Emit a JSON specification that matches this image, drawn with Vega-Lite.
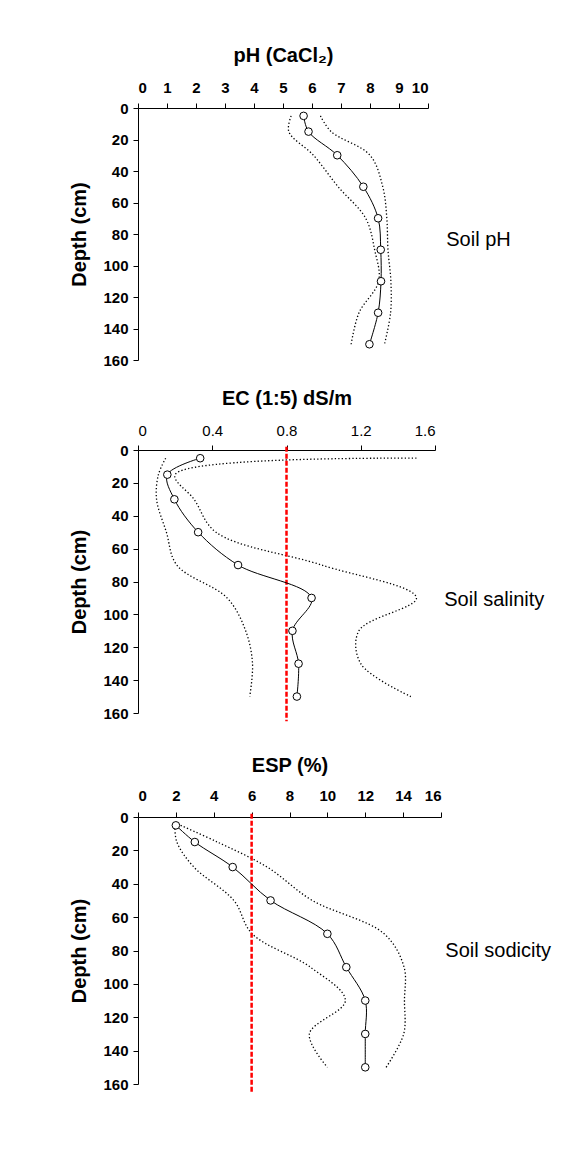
{
  "$schema": "https://vega.github.io/schema/vega-lite/v6.json",
  "background": "white",
  "padding": {"left": 69, "top": 45, "right": 5, "bottom": 5},
  "config": {
    "font": "Liberation Sans",
    "view": {"stroke": null},
    "axis": {
      "grid": false,
      "domainColor": "black",
      "tickColor": "black",
      "labelColor": "black",
      "titleColor": "black",
      "labelFont": "Liberation Sans",
      "titleFont": "Liberation Sans",
      "labelFontSize": 15,
      "labelFontWeight": "bold",
      "titleFontSize": 20,
      "titleFontWeight": "bold",
      "tickSize": 5,
      "domainWidth": 1,
      "tickWidth": 1,
      "labelOverlap": false
    },
    "axisY": {"labelPadding": 5, "titlePadding": 13}
  },
  "datasets": {
    "ph": [
      {"depth": 5, "series": "mean", "value": 5.71},
      {"depth": 15, "series": "mean", "value": 5.88},
      {"depth": 30, "series": "mean", "value": 6.87},
      {"depth": 50, "series": "mean", "value": 7.77},
      {"depth": 70, "series": "mean", "value": 8.28},
      {"depth": 90, "series": "mean", "value": 8.37},
      {"depth": 110, "series": "mean", "value": 8.38},
      {"depth": 130, "series": "mean", "value": 8.28},
      {"depth": 150, "series": "mean", "value": 7.98},
      {"depth": 5, "series": "lower", "value": 5.28},
      {"depth": 15, "series": "lower", "value": 5.2},
      {"depth": 30, "series": "lower", "value": 6.05},
      {"depth": 50, "series": "lower", "value": 6.9},
      {"depth": 70, "series": "lower", "value": 7.85},
      {"depth": 90, "series": "lower", "value": 8.16},
      {"depth": 110, "series": "lower", "value": 8.3},
      {"depth": 130, "series": "lower", "value": 7.62},
      {"depth": 150, "series": "lower", "value": 7.35},
      {"depth": 5, "series": "upper", "value": 6.29},
      {"depth": 15, "series": "upper", "value": 6.66},
      {"depth": 30, "series": "upper", "value": 8.0},
      {"depth": 50, "series": "upper", "value": 8.44},
      {"depth": 70, "series": "upper", "value": 8.58},
      {"depth": 90, "series": "upper", "value": 8.62},
      {"depth": 110, "series": "upper", "value": 8.72},
      {"depth": 130, "series": "upper", "value": 8.71},
      {"depth": 150, "series": "upper", "value": 8.5}
    ],
    "ec": [
      {"depth": 5, "series": "mean", "value": 0.335},
      {"depth": 15, "series": "mean", "value": 0.158},
      {"depth": 30, "series": "mean", "value": 0.196},
      {"depth": 50, "series": "mean", "value": 0.324},
      {"depth": 70, "series": "mean", "value": 0.539},
      {"depth": 90, "series": "mean", "value": 0.935},
      {"depth": 110, "series": "mean", "value": 0.832},
      {"depth": 130, "series": "mean", "value": 0.865},
      {"depth": 150, "series": "mean", "value": 0.856},
      {"depth": 5, "series": "lower", "value": 0.149},
      {"depth": 15, "series": "lower", "value": 0.11},
      {"depth": 30, "series": "lower", "value": 0.1},
      {"depth": 50, "series": "lower", "value": 0.153},
      {"depth": 70, "series": "lower", "value": 0.209},
      {"depth": 90, "series": "lower", "value": 0.48},
      {"depth": 110, "series": "lower", "value": 0.58},
      {"depth": 130, "series": "lower", "value": 0.617},
      {"depth": 150, "series": "lower", "value": 0.602},
      {"depth": 5, "series": "upper", "value": 1.5},
      {"depth": 15, "series": "upper", "value": 0.2},
      {"depth": 30, "series": "upper", "value": 0.302},
      {"depth": 50, "series": "upper", "value": 0.42},
      {"depth": 70, "series": "upper", "value": 0.99},
      {"depth": 90, "series": "upper", "value": 1.5},
      {"depth": 110, "series": "upper", "value": 1.19},
      {"depth": 130, "series": "upper", "value": 1.2},
      {"depth": 150, "series": "upper", "value": 1.47}
    ],
    "esp": [
      {"depth": 5, "series": "mean", "value": 2.0},
      {"depth": 15, "series": "mean", "value": 3.0},
      {"depth": 30, "series": "mean", "value": 5.0},
      {"depth": 50, "series": "mean", "value": 7.0},
      {"depth": 70, "series": "mean", "value": 10.0},
      {"depth": 90, "series": "mean", "value": 11.0},
      {"depth": 110, "series": "mean", "value": 12.0},
      {"depth": 130, "series": "mean", "value": 12.0},
      {"depth": 150, "series": "mean", "value": 12.0},
      {"depth": 5, "series": "lower", "value": 1.95},
      {"depth": 15, "series": "lower", "value": 2.05},
      {"depth": 30, "series": "lower", "value": 2.95},
      {"depth": 50, "series": "lower", "value": 5.06},
      {"depth": 70, "series": "lower", "value": 6.03},
      {"depth": 90, "series": "lower", "value": 9.1},
      {"depth": 110, "series": "lower", "value": 10.95},
      {"depth": 130, "series": "lower", "value": 9.05},
      {"depth": 150, "series": "lower", "value": 10.0},
      {"depth": 5, "series": "upper", "value": 2.25},
      {"depth": 15, "series": "upper", "value": 4.19},
      {"depth": 30, "series": "upper", "value": 6.82},
      {"depth": 50, "series": "upper", "value": 9.2},
      {"depth": 70, "series": "upper", "value": 13.0},
      {"depth": 90, "series": "upper", "value": 14.05},
      {"depth": 110, "series": "upper", "value": 14.07},
      {"depth": 130, "series": "upper", "value": 14.03},
      {"depth": 150, "series": "upper", "value": 13.1}
    ]
  },
  "bounds": "flush",
  "spacing": 90,
  "vconcat": [
    {
      "width": 290,
      "height": 252,
      "layer": [
        {
          "data": {"name": "ph"},
          "transform": [{"filter": "datum.series !== 'mean'"}],
          "mark": {"type": "line", "interpolate": "catmull-rom", "strokeDash": [1.3, 2.2], "strokeWidth": 1.3, "color": "black"},
          "encoding": {
            "y": {"field": "depth", "type": "quantitative", "scale": {"domain": [0, 160], "reverse": true, "nice": false, "zero": false}, "axis": {"title": "Depth (cm)", "values": [0, 20, 40, 60, 80, 100, 120, 140, 160], "tickCount": 9}},
            "x": {"field": "value", "type": "quantitative", "scale": {"domain": [0, 10], "nice": false}, "axis": {"orient": "top", "title": "pH (CaCl₂)", "values": [0, 1, 2, 3, 4, 5, 6, 7, 8, 9, 10], "tickCount": 11, "format": "d", "labelPadding": 7.5, "titlePadding": 15}},
            "detail": {"field": "series"},
            "order": {"field": "depth", "type": "quantitative"}
          }
        },
        {
          "data": {"name": "ph"},
          "transform": [{"filter": "datum.series === 'mean'"}],
          "mark": {"type": "line", "interpolate": "catmull-rom", "strokeWidth": 1, "color": "black"},
          "encoding": {
            "y": {"field": "depth", "type": "quantitative", "scale": {"domain": [0, 160], "reverse": true, "nice": false, "zero": false}, "axis": {"title": "Depth (cm)", "values": [0, 20, 40, 60, 80, 100, 120, 140, 160], "tickCount": 9}},
            "x": {"field": "value", "type": "quantitative", "scale": {"domain": [0, 10], "nice": false}, "axis": {"orient": "top", "title": "pH (CaCl₂)", "values": [0, 1, 2, 3, 4, 5, 6, 7, 8, 9, 10], "tickCount": 11, "format": "d", "labelPadding": 7.5, "titlePadding": 15}},
            "order": {"field": "depth", "type": "quantitative"}
          }
        },
        {
          "data": {"name": "ph"},
          "transform": [{"filter": "datum.series === 'mean'"}],
          "mark": {"type": "circle", "size": 58, "fill": "white", "stroke": "black", "strokeWidth": 1, "opacity": 1},
          "encoding": {
            "y": {"field": "depth", "type": "quantitative", "scale": {"domain": [0, 160], "reverse": true, "nice": false, "zero": false}, "axis": {"title": "Depth (cm)", "values": [0, 20, 40, 60, 80, 100, 120, 140, 160], "tickCount": 9}},
            "x": {"field": "value", "type": "quantitative", "scale": {"domain": [0, 10], "nice": false}, "axis": {"orient": "top", "title": "pH (CaCl₂)", "values": [0, 1, 2, 3, 4, 5, 6, 7, 8, 9, 10], "tickCount": 11, "format": "d", "labelPadding": 7.5, "titlePadding": 15}}
          }
        },
        {
          "data": {"values": [{"label": "Soil pH"}]},
          "mark": {"type": "text", "align": "left", "baseline": "middle", "fontSize": 20, "color": "black"},
          "encoding": {
            "x": {"datum": 10.63, "type": "quantitative", "axis": {"orient": "top", "title": "pH (CaCl₂)", "values": [0, 1, 2, 3, 4, 5, 6, 7, 8, 9, 10], "tickCount": 11, "format": "d", "labelPadding": 7.5, "titlePadding": 15}},
            "y": {"datum": 84, "type": "quantitative", "axis": {"title": "Depth (cm)", "values": [0, 20, 40, 60, 80, 100, 120, 140, 160], "tickCount": 9}},
            "text": {"field": "label"}
          }
        }
      ]
    },
    {
      "bounds": "flush",
      "spacing": 104,
      "vconcat": [
        {
          "width": 297,
          "height": 263,
          "layer": [
            {
              "data": {"name": "ec"},
              "transform": [{"filter": "datum.series !== 'mean'"}],
              "mark": {"type": "line", "interpolate": "catmull-rom", "strokeDash": [1.3, 2.2], "strokeWidth": 1.3, "color": "black"},
              "encoding": {
                "y": {"field": "depth", "type": "quantitative", "scale": {"domain": [0, 160], "reverse": true, "nice": false, "zero": false}, "axis": {"title": "Depth (cm)", "values": [0, 20, 40, 60, 80, 100, 120, 140, 160], "tickCount": 9}},
                "x": {"field": "value", "type": "quantitative", "scale": {"domain": [0, 1.6], "nice": false}, "axis": {"orient": "top", "title": "EC (1:5) dS/m", "values": [0, 0.4, 0.8, 1.2, 1.6], "tickCount": 5, "format": "~g", "labelFontWeight": "normal", "labelPadding": 7, "titlePadding": 15}},
                "detail": {"field": "series"},
                "order": {"field": "depth", "type": "quantitative"}
              }
            },
            {
              "data": {"values": [{"threshold": 0.8}]},
              "mark": {"type": "rule", "color": "#FF0000", "strokeWidth": 2.5, "strokeDash": [5, 2]},
              "encoding": {
                "x": {"field": "threshold", "type": "quantitative", "scale": {"domain": [0, 1.6], "nice": false}, "axis": {"orient": "top", "title": "EC (1:5) dS/m", "values": [0, 0.4, 0.8, 1.2, 1.6], "tickCount": 5, "format": "~g", "labelFontWeight": "normal", "labelPadding": 7, "titlePadding": 15}},
                "y": {"datum": -2, "type": "quantitative", "axis": {"title": "Depth (cm)", "values": [0, 20, 40, 60, 80, 100, 120, 140, 160], "tickCount": 9}},
                "y2": {"datum": 165}
              }
            },
            {
              "data": {"name": "ec"},
              "transform": [{"filter": "datum.series === 'mean'"}],
              "mark": {"type": "line", "interpolate": "catmull-rom", "strokeWidth": 1, "color": "black"},
              "encoding": {
                "y": {"field": "depth", "type": "quantitative", "scale": {"domain": [0, 160], "reverse": true, "nice": false, "zero": false}, "axis": {"title": "Depth (cm)", "values": [0, 20, 40, 60, 80, 100, 120, 140, 160], "tickCount": 9}},
                "x": {"field": "value", "type": "quantitative", "scale": {"domain": [0, 1.6], "nice": false}, "axis": {"orient": "top", "title": "EC (1:5) dS/m", "values": [0, 0.4, 0.8, 1.2, 1.6], "tickCount": 5, "format": "~g", "labelFontWeight": "normal", "labelPadding": 7, "titlePadding": 15}},
                "order": {"field": "depth", "type": "quantitative"}
              }
            },
            {
              "data": {"name": "ec"},
              "transform": [{"filter": "datum.series === 'mean'"}],
              "mark": {"type": "circle", "size": 58, "fill": "white", "stroke": "black", "strokeWidth": 1, "opacity": 1},
              "encoding": {
                "y": {"field": "depth", "type": "quantitative", "scale": {"domain": [0, 160], "reverse": true, "nice": false, "zero": false}, "axis": {"title": "Depth (cm)", "values": [0, 20, 40, 60, 80, 100, 120, 140, 160], "tickCount": 9}},
                "x": {"field": "value", "type": "quantitative", "scale": {"domain": [0, 1.6], "nice": false}, "axis": {"orient": "top", "title": "EC (1:5) dS/m", "values": [0, 0.4, 0.8, 1.2, 1.6], "tickCount": 5, "format": "~g", "labelFontWeight": "normal", "labelPadding": 7, "titlePadding": 15}}
              }
            },
            {
              "data": {"values": [{"label": "Soil salinity"}]},
              "mark": {"type": "text", "align": "left", "baseline": "middle", "fontSize": 20, "color": "black"},
              "encoding": {
                "x": {"datum": 1.65, "type": "quantitative", "axis": {"orient": "top", "title": "EC (1:5) dS/m", "values": [0, 0.4, 0.8, 1.2, 1.6], "tickCount": 5, "format": "~g", "labelFontWeight": "normal", "labelPadding": 7, "titlePadding": 15}},
                "y": {"datum": 91.5, "type": "quantitative", "axis": {"title": "Depth (cm)", "values": [0, 20, 40, 60, 80, 100, 120, 140, 160], "tickCount": 9}},
                "text": {"field": "label"}
              }
            }
          ]
        },
        {
          "width": 303,
          "height": 267,
          "layer": [
            {
              "data": {"name": "esp"},
              "transform": [{"filter": "datum.series !== 'mean'"}],
              "mark": {"type": "line", "interpolate": "catmull-rom", "strokeDash": [1.3, 2.2], "strokeWidth": 1.3, "color": "black"},
              "encoding": {
                "y": {"field": "depth", "type": "quantitative", "scale": {"domain": [0, 160], "reverse": true, "nice": false, "zero": false}, "axis": {"title": "Depth (cm)", "values": [0, 20, 40, 60, 80, 100, 120, 140, 160], "tickCount": 9}},
                "x": {"field": "value", "type": "quantitative", "scale": {"domain": [0, 16], "nice": false}, "axis": {"orient": "top", "title": "ESP (%)", "values": [0, 2, 4, 6, 8, 10, 12, 14, 16], "tickCount": 9, "format": "d", "labelPadding": 8.5, "titlePadding": 13}},
                "detail": {"field": "series"},
                "order": {"field": "depth", "type": "quantitative"}
              }
            },
            {
              "data": {"values": [{"threshold": 6}]},
              "mark": {"type": "rule", "color": "#FF0000", "strokeWidth": 2.5, "strokeDash": [5, 2]},
              "encoding": {
                "x": {"field": "threshold", "type": "quantitative", "scale": {"domain": [0, 16], "nice": false}, "axis": {"orient": "top", "title": "ESP (%)", "values": [0, 2, 4, 6, 8, 10, 12, 14, 16], "tickCount": 9, "format": "d", "labelPadding": 8.5, "titlePadding": 13}},
                "y": {"datum": -2, "type": "quantitative", "axis": {"title": "Depth (cm)", "values": [0, 20, 40, 60, 80, 100, 120, 140, 160], "tickCount": 9}},
                "y2": {"datum": 165}
              }
            },
            {
              "data": {"name": "esp"},
              "transform": [{"filter": "datum.series === 'mean'"}],
              "mark": {"type": "line", "interpolate": "catmull-rom", "strokeWidth": 1, "color": "black"},
              "encoding": {
                "y": {"field": "depth", "type": "quantitative", "scale": {"domain": [0, 160], "reverse": true, "nice": false, "zero": false}, "axis": {"title": "Depth (cm)", "values": [0, 20, 40, 60, 80, 100, 120, 140, 160], "tickCount": 9}},
                "x": {"field": "value", "type": "quantitative", "scale": {"domain": [0, 16], "nice": false}, "axis": {"orient": "top", "title": "ESP (%)", "values": [0, 2, 4, 6, 8, 10, 12, 14, 16], "tickCount": 9, "format": "d", "labelPadding": 8.5, "titlePadding": 13}},
                "order": {"field": "depth", "type": "quantitative"}
              }
            },
            {
              "data": {"name": "esp"},
              "transform": [{"filter": "datum.series === 'mean'"}],
              "mark": {"type": "circle", "size": 58, "fill": "white", "stroke": "black", "strokeWidth": 1, "opacity": 1},
              "encoding": {
                "y": {"field": "depth", "type": "quantitative", "scale": {"domain": [0, 160], "reverse": true, "nice": false, "zero": false}, "axis": {"title": "Depth (cm)", "values": [0, 20, 40, 60, 80, 100, 120, 140, 160], "tickCount": 9}},
                "x": {"field": "value", "type": "quantitative", "scale": {"domain": [0, 16], "nice": false}, "axis": {"orient": "top", "title": "ESP (%)", "values": [0, 2, 4, 6, 8, 10, 12, 14, 16], "tickCount": 9, "format": "d", "labelPadding": 8.5, "titlePadding": 13}}
              }
            },
            {
              "data": {"values": [{"label": "Soil sodicity"}]},
              "mark": {"type": "text", "align": "left", "baseline": "middle", "fontSize": 20, "color": "black"},
              "encoding": {
                "x": {"datum": 16.23, "type": "quantitative", "axis": {"orient": "top", "title": "ESP (%)", "values": [0, 2, 4, 6, 8, 10, 12, 14, 16], "tickCount": 9, "format": "d", "labelPadding": 8.5, "titlePadding": 13}},
                "y": {"datum": 80.5, "type": "quantitative", "axis": {"title": "Depth (cm)", "values": [0, 20, 40, 60, 80, 100, 120, 140, 160], "tickCount": 9}},
                "text": {"field": "label"}
              }
            }
          ]
        }
      ]
    }
  ]
}
